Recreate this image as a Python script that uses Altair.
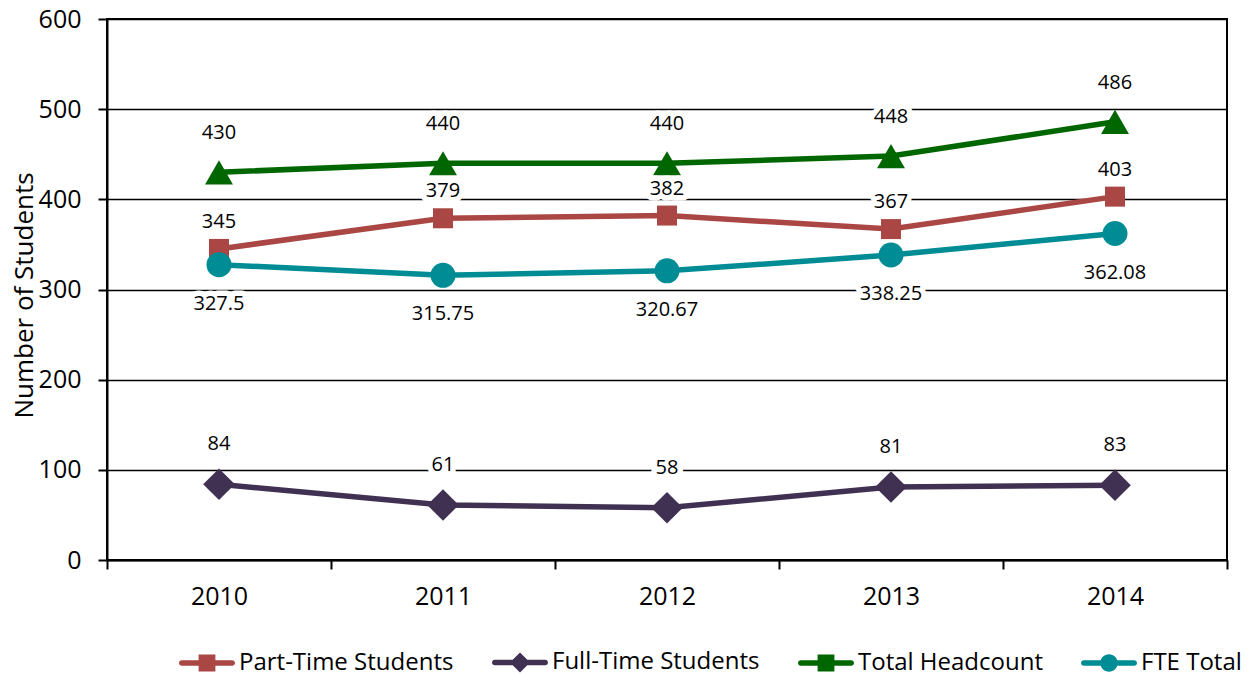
import altair as alt
import pandas as pd

years = ["2010", "2011", "2012", "2013", "2014"]
series_names = ["Part-Time Students", "Full-Time Students", "Total Headcount", "FTE Total"]
part_time = [345, 379, 382, 367, 403]
full_time = [84, 61, 58, 81, 83]
headcount = [430, 440, 440, 448, 486]
fte_total = [327.5, 315.75, 320.67, 338.25, 362.08]
y_ticks = [0, 100, 200, 300, 400, 500, 600]

values_by_series = [part_time, full_time, headcount, fte_total]

rows = []
for name, vals in zip(series_names, values_by_series):
    for yr, v in zip(years, vals):
        rows.append({"series": name, "year": yr, "value": v})
df = pd.DataFrame(rows)

colors = ["#AA4643", "#403152", "#006600", "#008C95"]
marker_shapes = ["square", "diamond", "triangle-up", "circle"]
marker_sizes = [400, 1000, 780, 625]
label_dy = [-27, -40, -39, 39]

line_path = "M-0.9,-0.1L0.9,-0.1A0.1,0.1,0,0,1,0.9,0.1L-0.9,0.1A0.1,0.1,0,0,1,-0.9,-0.1Z"
legend_paths = [
    line_path + "M-0.3,-0.3L0.3,-0.3L0.3,0.3L-0.3,0.3Z",
    line_path + "M0,-0.36L0.36,0L0,0.36L-0.36,0Z",
    line_path + "M-0.3,-0.3L0.3,-0.3L0.3,0.3L-0.3,0.3Z",
    line_path + "M-0.31,0A0.31,0.31,0,1,1,0.31,0A0.31,0.31,0,1,1,-0.31,0Z",
]

FONT = "Open Sans"

x_enc = alt.X(
    "year:N",
    scale=alt.Scale(type="band", paddingInner=0, paddingOuter=0),
    axis=alt.Axis(title=None, tickBand="extent", labelAngle=0, grid=False,
                  tickSize=9, labelPadding=15, labelFontSize=25),
)
y_enc = alt.Y(
    "value:Q",
    scale=alt.Scale(domain=[0, 600]),
    axis=alt.Axis(values=y_ticks, title="Number of Students", grid=True,
                  tickSize=9, labelPadding=17, labelFontSize=25,
                  titleFontSize=26, titleFontWeight="normal",
                  titleX=-75, titleY=276, titleBaseline="alphabetic",
                  titleAlign="center", titleAngle=270),
)

base = alt.Chart(df)

lines = []
markers = []
halos = []
texts = []
for name, col, shp, sz, dy in zip(series_names, colors, marker_shapes, marker_sizes, label_dy):
    sub = base.transform_filter(alt.datum.series == name)
    lines.append(sub.mark_line(color=col, strokeWidth=5.5).encode(x=x_enc, y=y_enc))
    markers.append(sub.mark_point(shape=shp, size=sz, filled=True, color=col, opacity=1).encode(x=x_enc, y=y_enc))
    halos.append(sub.mark_text(fontSize=20, font=FONT, dy=dy, color="white", stroke="white",
                               strokeWidth=11, strokeJoin="round").encode(
        x=x_enc, y=y_enc, text=alt.Text("value:Q", format=".2~f")))
    texts.append(sub.mark_text(fontSize=20, font=FONT, dy=dy, color="black").encode(
        x=x_enc, y=y_enc, text=alt.Text("value:Q", format=".2~f")))

legend_layer = base.mark_point(filled=True, size=16, opacity=1).encode(
    x=x_enc,
    y=y_enc,
    color=alt.Color("series:N", scale=alt.Scale(domain=series_names, range=colors),
                    legend=alt.Legend(orient="none", legendX=71, legendY=614,
                                      direction="horizontal", title=None,
                                      symbolSize=3136, labelFontSize=24,
                                      labelOffset=3, columnPadding=35,
                                      symbolOpacity=1, labelColor="black",
                                      labelFont=FONT, padding=0, labelLimit=0)),
    shape=alt.Shape("series:N", scale=alt.Scale(domain=series_names, range=legend_paths)),
)

chart = alt.layer(legend_layer, *lines, *markers, *halos, *texts).properties(
    width=1120,
    height=541,
    padding={"left": 99, "top": 11, "right": 23, "bottom": 114},
    autosize=alt.AutoSizeParams(type="none"),
).configure(
    font=FONT,
).configure_view(
    stroke="black", strokeWidth=2,
).configure_axis(
    domainColor="black", domainWidth=2, tickColor="black", tickWidth=2,
    gridColor="black", gridWidth=1.3, labelColor="black", titleColor="black",
    labelFont=FONT, titleFont=FONT,
)

chart.save("out.html", embed_options={"renderer": "svg", "actions": False})
